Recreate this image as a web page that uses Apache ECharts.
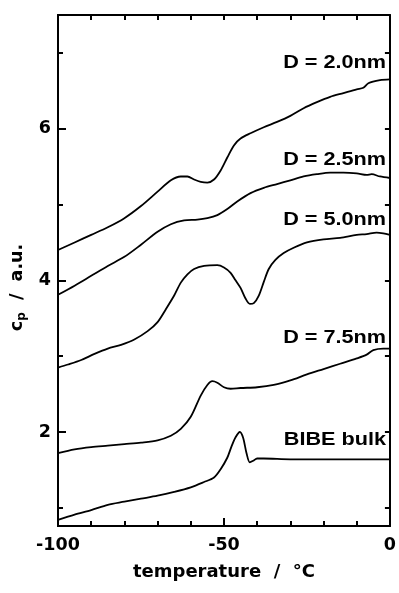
<!DOCTYPE html>
<html>
<head>
<meta charset="utf-8">
<script src="https://cdn.jsdelivr.net/npm/echarts@6/dist/echarts.min.js"></script>
<style>
html,body{margin:0;padding:0;background:#fff;}
#chart{width:399px;height:593px;}
</style>
</head>
<body>
<div id="chart"></div>
<script>
// ---- data ----
const xTickLabels = [-100, -50, 0];
const xMinorTicks = [-90, -80, -70, -60, -40, -30, -20, -10];
const xTopTicks = [-90, -80, -70, -60, -50, -40, -30, -20, -10];
const yTickLabels = [2, 4, 6];
const yMinorTicks = [1, 3, 5, 7];
const yAllTicks = [1, 2, 3, 4, 5, 6, 7];

const T_d20  = [-100,-95,-90,-85,-80,-75,-70,-66,-63,-61,-59,-57,-55,-53,-51,-49,-47,-45,-42,-38,-34,-30,-26,-22,-18,-14,-10,-8,-6.5,-3,0];
const cp_d20 = [4.40,4.50,4.60,4.70,4.82,4.98,5.17,5.32,5.37,5.37,5.33,5.30,5.29,5.33,5.45,5.62,5.78,5.87,5.94,6.02,6.09,6.17,6.27,6.35,6.42,6.47,6.52,6.54,6.60,6.64,6.65];

const T_d25  = [-100,-95,-90,-85,-80,-75,-70,-66,-62,-58,-55,-52,-49,-46,-42,-38,-34,-30,-26,-22,-18,-14,-10,-7,-5.5,-3,0];
const cp_d25 = [3.81,3.93,4.06,4.19,4.31,4.47,4.64,4.74,4.79,4.80,4.82,4.86,4.94,5.04,5.15,5.22,5.27,5.32,5.37,5.40,5.42,5.42,5.41,5.39,5.40,5.37,5.35];

const T_d50  = [-100,-97,-93,-89,-85,-81,-77,-73,-70,-67.5,-65,-63,-61,-59,-56,-52,-50,-48,-46.5,-45,-43.5,-42.2,-41,-39.5,-38,-36.5,-34.5,-32,-29,-25,-20,-15,-10,-7,-4,-2,0];
const cp_d50 = [2.85,2.89,2.95,3.03,3.10,3.15,3.22,3.33,3.45,3.62,3.80,3.97,4.08,4.15,4.19,4.20,4.17,4.10,4.00,3.90,3.76,3.69,3.70,3.80,3.98,4.15,4.27,4.36,4.43,4.50,4.54,4.56,4.60,4.61,4.63,4.62,4.60];

const T_d75  = [-100,-95,-90,-85,-80,-75,-70,-66,-63,-60,-57,-55,-53.5,-52,-50,-48,-45,-40,-35,-30,-25,-20,-15,-10,-7,-5,-2,0];
const cp_d75 = [1.72,1.77,1.80,1.82,1.84,1.86,1.89,1.95,2.04,2.20,2.48,2.62,2.67,2.65,2.59,2.57,2.58,2.59,2.62,2.68,2.76,2.83,2.90,2.97,3.02,3.08,3.10,3.10];

const T_bulk  = [-100,-95,-90,-85,-80,-75,-70,-65,-60,-56,-53,-51,-49,-47.8,-46.5,-45.2,-44.2,-43.2,-42.2,-41.2,-40,-38,-30,-20,-10,0];
const cp_bulk = [0.84,0.91,0.97,1.04,1.08,1.12,1.16,1.21,1.27,1.34,1.40,1.51,1.66,1.80,1.93,2.00,1.92,1.72,1.60,1.62,1.65,1.65,1.64,1.64,1.64,1.64];

const curveLabels = ['D = 2.0nm', 'D = 2.5nm', 'D = 5.0nm', 'D = 7.5nm', 'BIBE bulk'];
const labelY = [63, 160, 220, 338, 440];

// ---- chart ----
const zip = (a, b) => a.map((t, i) => [t, b[i]]);
const curves = [[T_d20, cp_d20],[T_d25, cp_d25],[T_d50, cp_d50],[T_d75, cp_d75],[T_bulk, cp_bulk]];

const FONT = 'DejaVu Sans';
const chart = echarts.init(document.getElementById('chart'), null, {renderer: 'canvas'});

function xAx(pos, ticks, len, extra) {
  return Object.assign({
    type: 'value', min: -100, max: 0, position: pos,
    axisLine: {show: true, onZero: false, lineStyle: {color: '#000', width: 2}},
    axisTick: {show: true, inside: true, length: len, customValues: ticks, lineStyle: {color: '#000', width: 2}},
    axisLabel: {show: false},
    splitLine: {show: false}
  }, extra || {});
}
function yAx(pos, ticks, len, extra) {
  return Object.assign({
    type: 'value', min: 0.76, max: 7.5, position: pos,
    axisLine: {show: true, onZero: false, lineStyle: {color: '#000', width: 2}},
    axisTick: {show: true, inside: true, length: len, customValues: ticks, lineStyle: {color: '#000', width: 2}},
    axisLabel: {show: false},
    splitLine: {show: false}
  }, extra || {});
}

const option = {
  animation: false,
  backgroundColor: '#fff',
  grid: {left: 58, right: 6, top: 15, bottom: 67, containLabel: false},
  xAxis: [
    xAx('bottom', xTickLabels, 8, {
      axisLabel: {show: true, margin: 10, color: '#000', fontFamily: FONT, fontWeight: 'bold', fontSize: 17.5,
        customValues: xTickLabels},
      name: 'temperature  /  °C', nameLocation: 'middle', nameGap: 37,
      nameTextStyle: {color: '#000', fontFamily: FONT, fontWeight: 'bold', fontSize: 18}
    }),
    xAx('bottom', xMinorTicks, 5),
    xAx('top', xTopTicks, 5)
  ],
  yAxis: [
    yAx('left', yTickLabels, 8, {
      axisLabel: {show: true, margin: 7, customValues: yTickLabels, color: '#000', fontFamily: FONT, fontWeight: 'bold', fontSize: 17.5},
      name: '{c|c}{p|p}{n|  /  a.u.}', nameLocation: 'middle', nameGap: 28, nameRotate: 90,
      nameTextStyle: {
        padding: [0, 34, 0, 0],
        rich: {
          c: {fontFamily: FONT, fontWeight: 'bold', fontSize: 17.5, color: '#000'},
          p: {fontFamily: FONT, fontWeight: 'bold', fontSize: 12, color: '#000', verticalAlign: 'bottom', padding: [8, 0, 0, 0]},
          n: {fontFamily: FONT, fontWeight: 'bold', fontSize: 17.5, color: '#000'}
        }
      }
    }),
    yAx('left', yMinorTicks, 5),
    yAx('right', yAllTicks, 5)
  ],
  series: curves.map(([t, v], i) => ({
    type: 'line', xAxisIndex: 0, yAxisIndex: 0,
    data: zip(t, v), showSymbol: false, symbol: 'none',
    smooth: 0.3,
    lineStyle: {color: '#000', width: 1.8},
    z: 3
  })),
  graphic: curveLabels.map((txt, i) => ({
    type: 'text', x: 386, y: labelY[i], scaleX: 1.17, scaleY: 1,
    style: {text: txt, align: 'right', verticalAlign: 'middle',
      font: 'bold 18.5px "Liberation Sans", Arial, sans-serif', fill: '#000'}
  }))
};
chart.setOption(option);
</script>
</body>
</html>
